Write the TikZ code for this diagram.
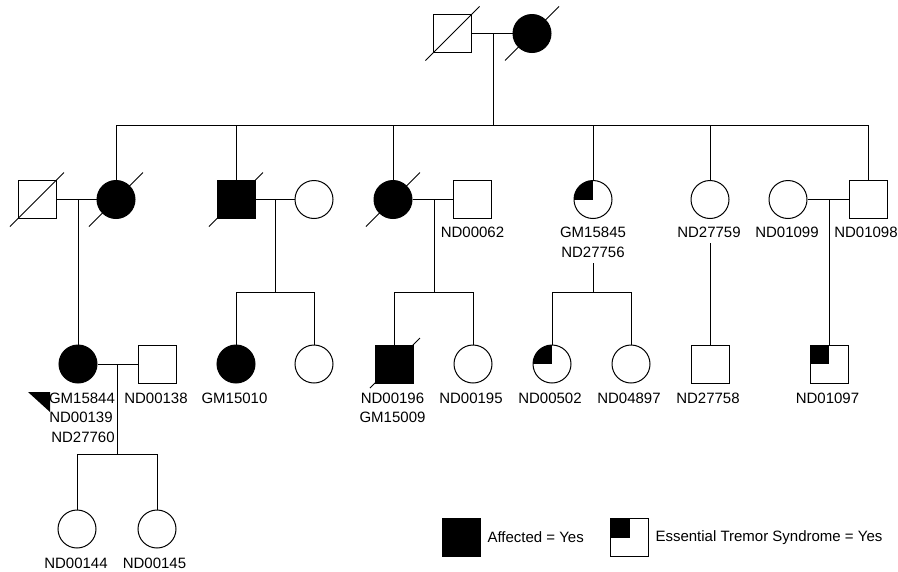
\documentclass[tikz,border=0pt]{standalone}
\usepackage{fontspec}
\setmainfont{Liberation Sans}
\usetikzlibrary{calc}
\begin{document}
\begin{tikzpicture}[x=1pt,y=-1pt,line width=1pt,
  male/.style={draw,rectangle,minimum size=38pt,inner sep=0pt,line width=1pt},
  female/.style={draw,circle,minimum size=38pt,inner sep=0pt,line width=1pt},
  aff/.style={fill=black},
  et/.style={path picture={\fill[black] (path picture bounding box.north west) rectangle (path picture bounding box.center);}},
  lbl/.style={font=\fontsize{15}{18}\selectfont,inner sep=0pt},
  slash/.style={line width=1pt}]
\useasboundingbox (0,0) rectangle (898,571);
% ---------- generation 1
\node[male] (g1m) at (452.5,33.5) {};
\node[female,aff] (g1f) at (532,33.5) {};
\draw[slash] (g1m.center) ++(-27,27) -- ++(54,-54);
\draw[slash] (g1f.center) ++(-27,27) -- ++(54,-54);
% ---------- generation 2
\node[male] (h1) at (37,199.5) {};
\node[female,aff] (w1) at (116,199.5) {};
\node[male,aff] (s2) at (236,199.5) {};
\node[female] (w2) at (314,199.5) {};
\node[female,aff] (s3) at (393,199.5) {};
\node[male] (h3) at (472.5,199.5) {};
\node[female,et] (s4) at (593,199.5) {};
\node[female] (s5) at (710,199.5) {};
\node[female] (w6) at (788,199.5) {};
\node[male] (s6) at (868,199.5) {};
\foreach \n in {h1,w1,s2,s3}{\draw[slash] (\n.center) ++(-27,27) -- ++(54,-54);}
\node[lbl] (lh3) at (472.5,232) {ND00062};
\node[lbl] (ls4a) at (593,232) {GM15845};
\node[lbl] (ls4b) at (593,252) {ND27756};
\node[lbl] (ls5) at (709,232) {ND27759};
\node[lbl] (lw6) at (787,232) {ND01099};
\node[lbl] (ls6) at (866,232) {ND01098};
% ---------- generation 3
\node[female,aff] (c1) at (78,364) {};
\node[male] (c1h) at (157,364) {};
\node[female,aff] (c2) at (236,364) {};
\node[female] (c3) at (314,364) {};
\node[male,aff] (c4) at (394,364) {};
\node[female] (c5) at (473,364) {};
\node[female,et] (c6) at (552,364) {};
\node[female] (c7) at (631,364) {};
\node[male] (c8) at (710,364) {};
\node[male,et] (c9) at (829,364) {};
\draw[slash] (c4.center) ++(-24,24) -- ++(50,-50);
\fill (28,392) -- (50,392) -- (50,412) -- cycle;
\node[lbl] (lc1a) at (82,398) {GM15844};
\node[lbl] (lc1b) at (81,417) {ND00139};
\node[lbl] (lc1c) at (83,437) {ND27760};
\node[lbl] (lc1h) at (156,398) {ND00138};
\node[lbl] (lc2) at (234.5,398) {GM15010};
\node[lbl] (lc4a) at (392.5,398) {ND00196};
\node[lbl] (lc4b) at (392.5,417) {GM15009};
\node[lbl] (lc5) at (471,398) {ND00195};
\node[lbl] (lc6) at (550,398) {ND00502};
\node[lbl] (lc7) at (629,398) {ND04897};
\node[lbl] (lc8) at (708,398) {ND27758};
\node[lbl] (lc9) at (827.5,398) {ND01097};
% ---------- generation 4
\node[female] (d1) at (77,529) {};
\node[female] (d2) at (157,529) {};
\node[lbl] (ld1) at (76,563) {ND00144};
\node[lbl] (ld2) at (154.5,563) {ND00145};
% ---------- connectors
\coordinate (j1) at (493,33.5);
\coordinate (b1) at (493,125);
\draw (g1m.east) -- (g1f.west);
\draw (j1) -- (b1);
\draw (w1.north) -- (w1.north |- b1) -- (s6.north |- b1) -- (s6.north);
\foreach \n in {s2,s3,s4,s5}{\draw (\n.north) -- (\n.north |- b1);}
% couple h1-w1
\coordinate (j2) at (78,199.5);
\draw (h1.east) -- (w1.west);
\draw (j2) -- (c1.north);
% couple s2-w2
\coordinate (j3) at (275,199.5);
\coordinate (b3) at (275,292);
\draw (s2.east) -- (w2.west);
\draw (j3) -- (b3);
\draw (c2.north) -- (c2.north |- b3) -- (c3.north |- b3) -- (c3.north);
% couple s3-h3
\coordinate (j4) at (434,199.5);
\coordinate (b4) at (434,292);
\draw (s3.east) -- (h3.west);
\draw (j4) -- (b4);
\draw (c4.north) -- (c4.north |- b4) -- (c5.north |- b4) -- (c5.north);
% s4 children
\coordinate (j5) at (593,263);
\coordinate (b5) at (593,292);
\draw (j5) -- (b5);
\draw (c6.north) -- (c6.north |- b5) -- (c7.north |- b5) -- (c7.north);
% s5 child
\coordinate (j6) at (710,243);
\draw (j6) -- (c8.north);
% couple w6-s6
\coordinate (j7) at (829,199.5);
\draw (w6.east) -- (s6.west);
\draw (j7) -- (c9.north);
% couple c1-c1h
\coordinate (j8) at (117.5,364);
\coordinate (b8) at (117.5,454);
\draw (c1.east) -- (c1h.west);
\draw (j8) -- (b8);
\draw (d1.north) -- (d1.north |- b8) -- (d2.north |- b8) -- (d2.north);
% ---------- legend
\node[male,aff] (lg1) at (461.5,537.5) {};
\node[lbl,anchor=west] (lg1t) at (487,537.5) {Affected = Yes};
\node[male,et] (lg2) at (629.5,537.5) {};
\node[lbl,anchor=west] (lg2t) at (655,537.5) {Essential Tremor Syndrome = Yes};
\end{tikzpicture}
\end{document}
